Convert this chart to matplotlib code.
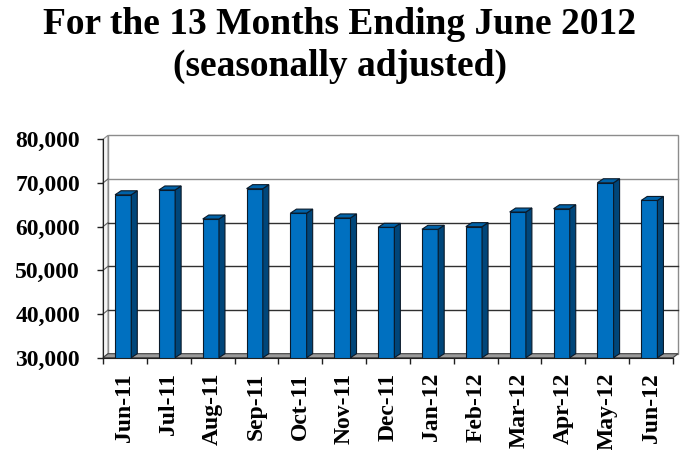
import matplotlib
matplotlib.use("Agg")
import matplotlib.pyplot as plt
from matplotlib.patches import Polygon
import numpy as np

months = ["Jun-11", "Jul-11", "Aug-11", "Sep-11", "Oct-11", "Nov-11", "Dec-11",
          "Jan-12", "Feb-12", "Mar-12", "Apr-12", "May-12", "Jun-12"]
values = [67300, 68400, 61750, 68700, 63100, 62000, 59850,
          59400, 60000, 63350, 64100, 70050, 66000]
yticks = [30000, 40000, 50000, 60000, 70000, 80000]

plt.rcParams['font.family'] = ['Liberation Serif', 'DejaVu Serif']
plt.rcParams['font.weight'] = 'bold'

fig = plt.figure(figsize=(6.8, 4.5), dpi=100)
ax = fig.add_axes([103/680, 92.3/450, 570/680, 218.4/450])
ax.set_zorder(3)
ax.set_xlim(-0.5, 12.5)
ax.set_ylim(30000, 80000)

# depth offsets in pixels
WDX, WDY = 5, 4     # walls / floor
BDX, BDY = 6, 4     # bars


def px(x, y):
    return ax.transData.transform((x, y))


def poly(pts, **kw):
    p = Polygon(pts, closed=True, transform=None, clip_on=False, **kw)
    fig.add_artist(p)
    return p


x0, x1 = -0.5, 12.5
# back wall
bl, br, tr, tl = px(x0, 30000), px(x1, 30000), px(x1, 80000), px(x0, 80000)
off = np.array([WDX, WDY])
poly([bl + off, br + off, tr + off, tl + off], facecolor="white",
     edgecolor="#8c8c8c", linewidth=1.0, zorder=1)
# left wall
poly([bl, bl + off, tl + off, tl], facecolor="#f4f4f4",
     edgecolor="#8c8c8c", linewidth=0.8, zorder=1)
# gridlines on back wall + left wall
for v in yticks[1:-1]:
    a, b = px(x0, v), px(x1, v)
    col = "#303030" if v < 70000 else "#8c8c8c"
    fig.add_artist(plt.Line2D([a[0] + WDX, b[0] + WDX], [a[1] + WDY, b[1] + WDY],
                              transform=None, color=col, lw=1.0, zorder=1.5))
    fig.add_artist(plt.Line2D([a[0], a[0] + WDX], [a[1], a[1] + WDY],
                              transform=None, color="#606060", lw=0.8, zorder=1.5))
# floor
poly([bl, br, br + off, bl + off], facecolor="#9a9a9a",
     edgecolor="#404040", linewidth=0.8, zorder=2)

# bars
xs = np.arange(len(months))
heights = [v - 30000 for v in values]
bars = ax.bar(xs - 0.04, heights, bottom=30000, width=0.37, color="#0070C0",
              edgecolor="#0a1a2a", linewidth=0.8, zorder=3)
fig.canvas.draw()
for b in bars:
    (ax0, ay0), (ax1, ay1) = b.get_window_extent().get_points()
    bo = np.array([BDX, BDY])
    poly([(ax1, ay0), np.array((ax1, ay0)) + bo, np.array((ax1, ay1)) + bo, (ax1, ay1)],
         facecolor="#00467a", edgecolor="#0a1a2a", linewidth=0.8, zorder=4)
    poly([(ax0, ay1), np.array((ax0, ay1)) + bo, np.array((ax1, ay1)) + bo, (ax1, ay1)],
         facecolor="#0062a8", edgecolor="#0a1a2a", linewidth=0.8, zorder=4)

ax.patch.set_visible(False)
for s in ["top", "right"]:
    ax.spines[s].set_visible(False)
ax.spines["left"].set_color("#202020")
ax.spines["bottom"].set_color("#202020")

ax.set_yticks(yticks)
ax.set_yticklabels([f"{v:,}" for v in yticks], fontsize=17, fontweight="bold")
ax.set_xticks(xs)
ax.set_xticklabels(months, rotation=90, fontsize=17, fontweight="bold")
ax.set_xticks(np.arange(-0.5, 13, 1), minor=True)
ax.tick_params(axis="x", which="major", length=0, pad=11)
ax.tick_params(axis="x", which="minor", length=4.5, width=1, color="#202020")
ax.tick_params(axis="y", length=4.5, width=1, color="#202020", pad=12)

fig.text(0.5, 1 - 34/450, "For the 13 Months Ending June 2012", ha="center",
         va="baseline", fontsize=27, fontweight="bold")
fig.text(0.5, 1 - 76/450, "(seasonally adjusted)", ha="center",
         va="baseline", fontsize=27, fontweight="bold")

fig.savefig("out.png")
